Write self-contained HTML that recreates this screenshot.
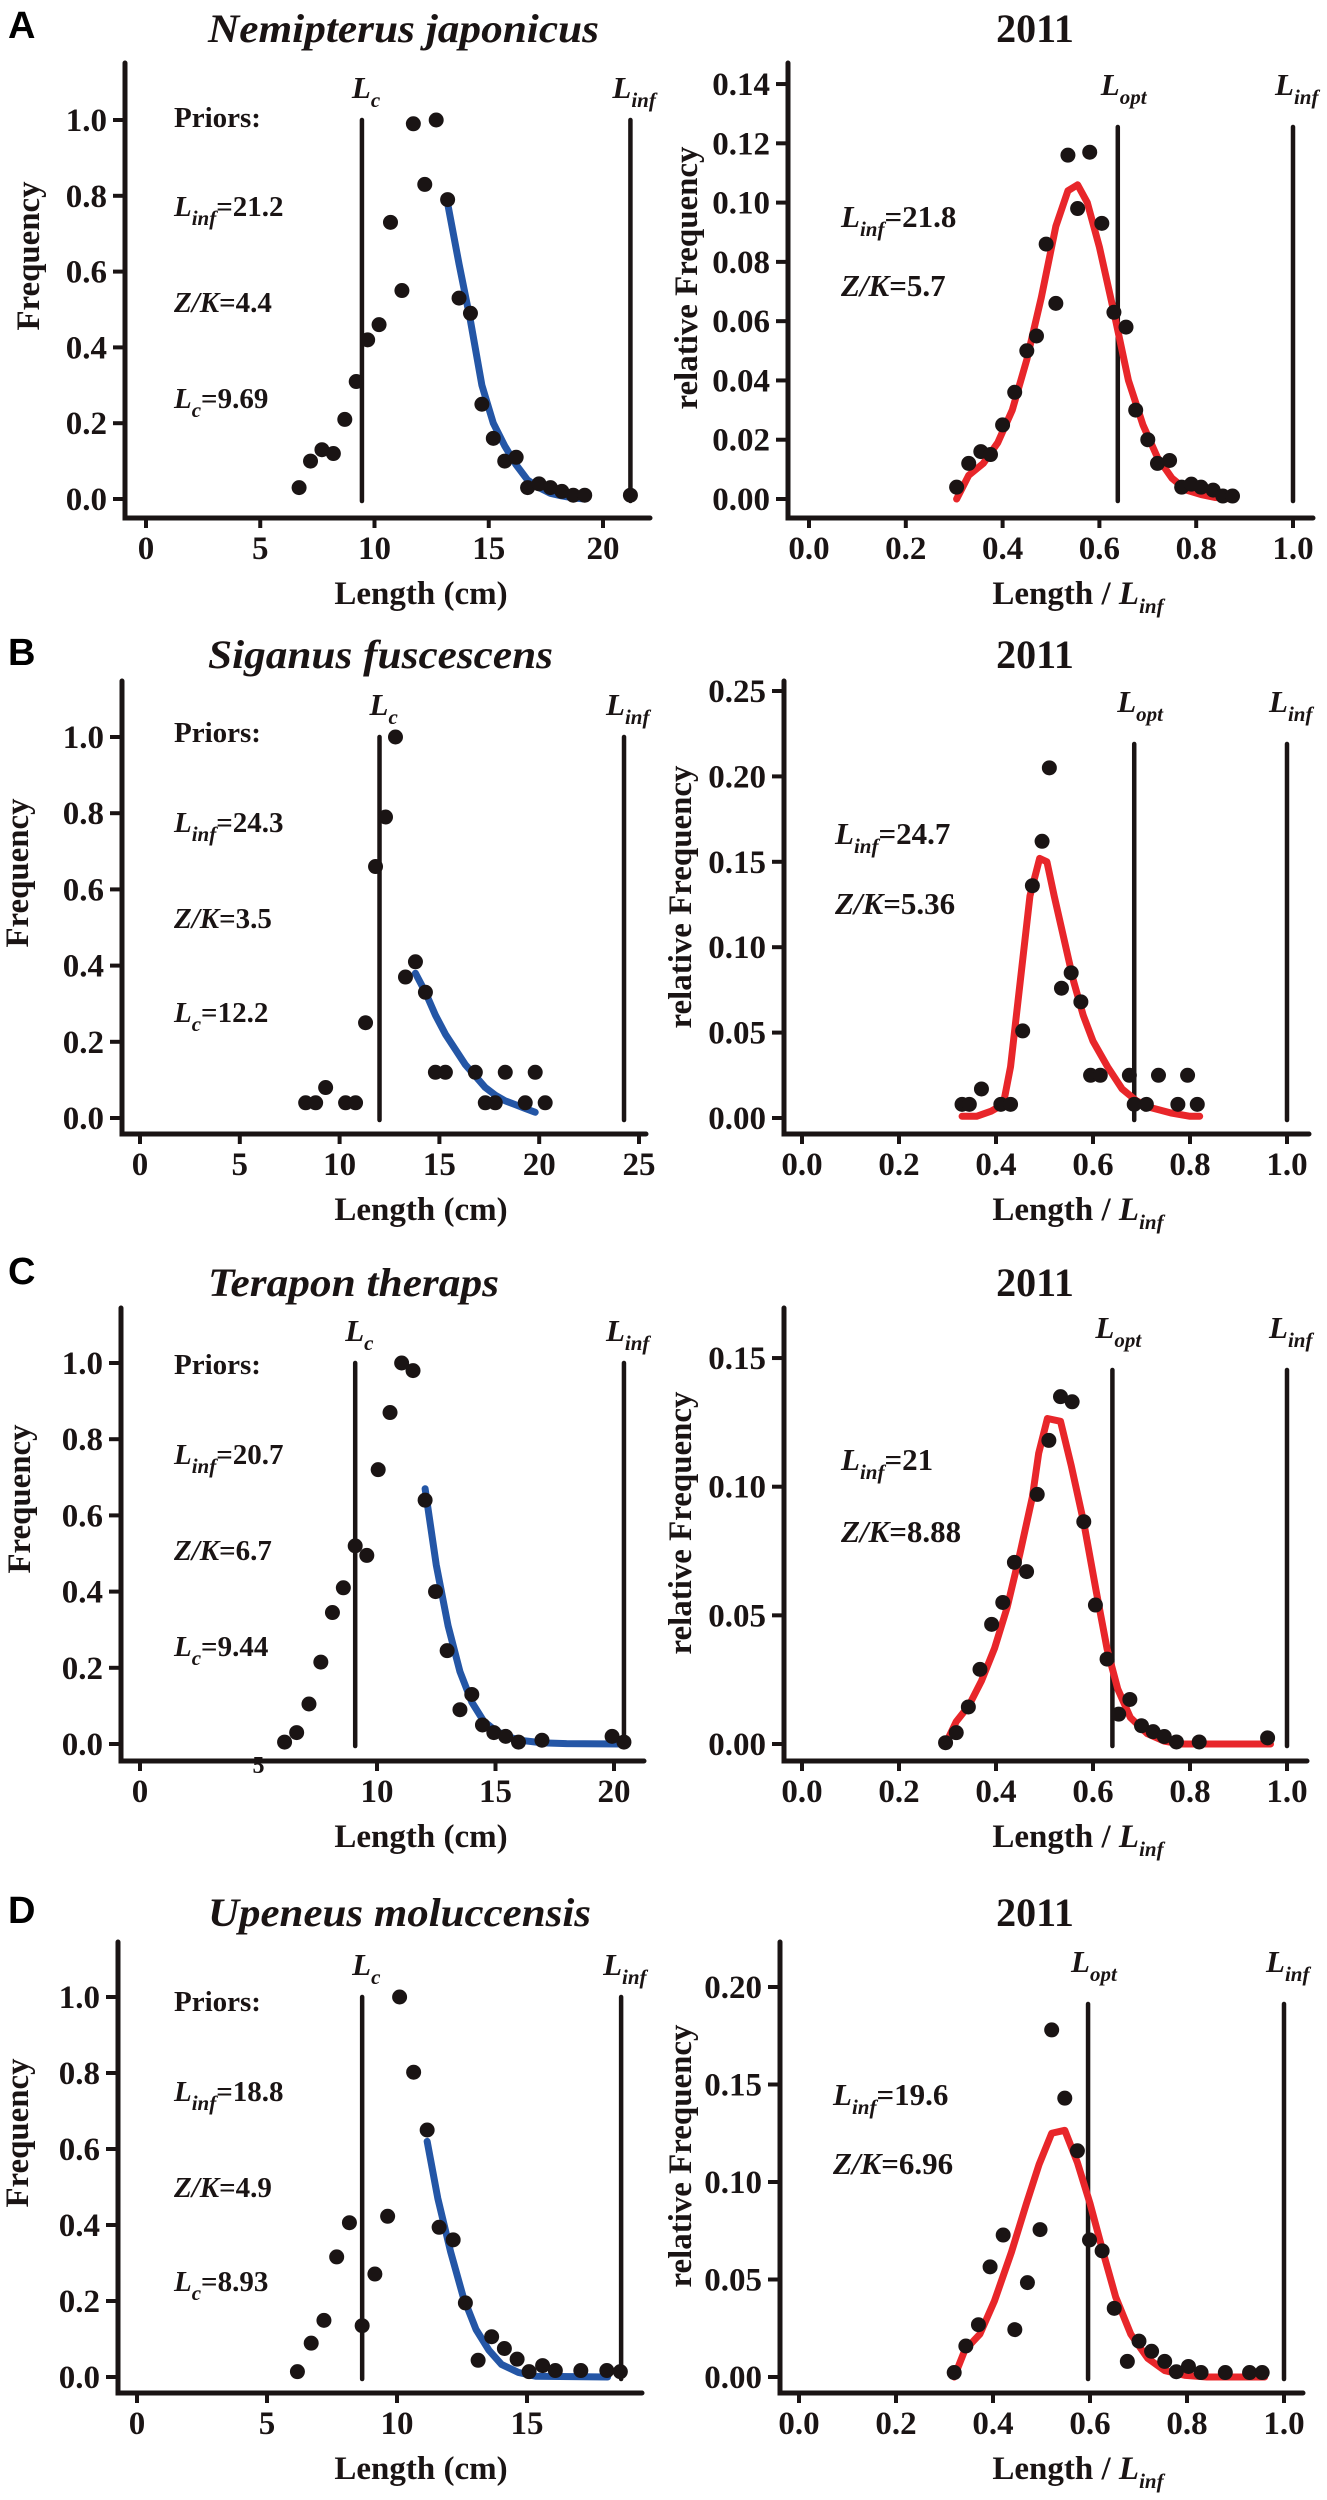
<!DOCTYPE html>
<html><head><meta charset="utf-8"><title>Length-frequency fits</title>
<style>
html,body{margin:0;padding:0;background:#fff;}
svg{display:block;font-family:"Liberation Serif",serif;}
.b{font-weight:bold;}
</style></head>
<body>
<svg id="fig" width="1327" height="2500" viewBox="0 0 1327 2500" xmlns="http://www.w3.org/2000/svg"></svg>
<script>
// ---------- DATA ----------
const aLeftX=[6.7,7.2,7.7,8.2,8.7,9.2,9.7,10.2,10.7,11.2,11.7,12.2,12.7,13.2,13.7,14.2,14.7,15.2,15.7,16.2,16.7,17.2,17.7,18.2,18.7,19.2,21.2];
const aLeftY=[0.03,0.10,0.13,0.12,0.21,0.31,0.42,0.46,0.73,0.55,0.99,0.83,1.0,0.79,0.53,0.49,0.25,0.16,0.10,0.11,0.03,0.04,0.03,0.02,0.01,0.01,0.01];
const aFitX=[13.2,13.7,14.2,14.7,15.2,15.7,16.2,16.7,17.2,17.7,18.2,18.7,19.2];
const aFitY=[0.78,0.62,0.47,0.30,0.20,0.14,0.09,0.05,0.03,0.015,0.008,0.003,0.0];
const aRightX=[0.305,0.33,0.355,0.375,0.40,0.425,0.45,0.47,0.49,0.51,0.535,0.555,0.58,0.605,0.63,0.655,0.675,0.70,0.72,0.745,0.77,0.79,0.81,0.835,0.855,0.875];
const aRightY=[0.004,0.012,0.016,0.015,0.025,0.036,0.05,0.055,0.086,0.066,0.116,0.098,0.117,0.093,0.063,0.058,0.030,0.020,0.012,0.013,0.004,0.005,0.004,0.003,0.001,0.001];
const aRFitX=[0.305,0.33,0.36,0.39,0.42,0.45,0.48,0.51,0.535,0.555,0.575,0.60,0.63,0.66,0.69,0.72,0.75,0.78,0.81,0.84,0.875];
const aRFitY=[0,0.008,0.012,0.019,0.03,0.047,0.068,0.092,0.104,0.106,0.1,0.085,0.063,0.04,0.025,0.014,0.007,0.003,0.0015,0.0005,0];

const bLeftX=[8.3,8.8,9.3,10.3,10.8,11.3,11.8,12.3,12.8,13.3,13.8,14.3,14.8,15.3,16.8,17.3,17.8,18.3,19.3,19.8,20.3];
const bLeftY=[0.04,0.04,0.08,0.04,0.04,0.25,0.66,0.79,1.0,0.37,0.41,0.33,0.12,0.12,0.12,0.04,0.04,0.12,0.04,0.12,0.04];
const bFitX=[13.8,14.3,14.8,15.3,15.8,16.3,16.8,17.3,17.8,18.3,18.8,19.3,19.8];
const bFitY=[0.38,0.33,0.27,0.22,0.18,0.14,0.11,0.08,0.06,0.045,0.035,0.025,0.015];
const bRightX=[0.33,0.345,0.37,0.41,0.43,0.455,0.475,0.495,0.51,0.535,0.555,0.575,0.595,0.615,0.675,0.685,0.71,0.735,0.775,0.795,0.815];
const bRightY=[0.008,0.008,0.017,0.008,0.008,0.051,0.136,0.162,0.205,0.076,0.085,0.068,0.025,0.025,0.025,0.008,0.008,0.025,0.008,0.025,0.008];
const bRFitX=[0.33,0.36,0.39,0.415,0.43,0.45,0.47,0.49,0.505,0.52,0.54,0.56,0.58,0.60,0.63,0.66,0.69,0.72,0.76,0.8,0.82];
const bRFitY=[0.001,0.001,0.004,0.008,0.03,0.08,0.13,0.152,0.15,0.13,0.105,0.08,0.06,0.045,0.03,0.017,0.01,0.006,0.003,0.001,0.001];

const cLeftX=[6.10,6.61,7.13,7.63,8.12,8.58,9.08,9.57,10.05,10.55,11.04,11.52,12.03,12.47,12.96,13.50,14.0,14.45,14.93,15.43,15.97,16.96,19.92,20.42];
const cLeftY=[0.005,0.03,0.105,0.215,0.345,0.41,0.52,0.495,0.72,0.87,1.0,0.98,0.64,0.40,0.245,0.09,0.13,0.05,0.03,0.02,0.005,0.01,0.02,0.005];
const cFitX=[12.03,12.5,13.0,13.5,14.0,14.5,15.0,15.5,16.0,17.0,18.0,20.3];
const cFitY=[0.67,0.47,0.31,0.19,0.11,0.06,0.035,0.02,0.01,0.003,0.001,0];
const cRightX=[0.296,0.318,0.343,0.367,0.391,0.414,0.438,0.463,0.485,0.509,0.533,0.557,0.581,0.605,0.629,0.653,0.676,0.70,0.724,0.747,0.772,0.819,0.96];
const cRightY=[0.0005,0.0044,0.0144,0.029,0.0465,0.055,0.0706,0.067,0.097,0.118,0.135,0.133,0.0864,0.054,0.033,0.0116,0.0173,0.0071,0.0048,0.0029,0.0008,0.0008,0.0024];
const cRFitX=[0.296,0.318,0.344,0.370,0.397,0.423,0.449,0.475,0.488,0.506,0.533,0.555,0.581,0.607,0.629,0.651,0.677,0.712,0.747,0.782,0.966];
const cRFitY=[0,0.0087,0.0149,0.0245,0.0372,0.0531,0.0737,0.096,0.113,0.1265,0.1254,0.1083,0.086,0.059,0.037,0.0214,0.0103,0.004,0.0011,0,0];

const dLeftX=[6.17,6.70,7.19,7.68,8.17,8.66,9.15,9.64,10.10,10.64,11.16,11.62,12.16,12.63,13.12,13.64,14.13,14.62,15.08,15.60,16.09,17.07,18.07,18.59];
const dLeftY=[0.014,0.089,0.149,0.316,0.406,0.135,0.271,0.423,1.0,0.802,0.65,0.394,0.361,0.195,0.044,0.106,0.075,0.047,0.014,0.03,0.017,0.017,0.017,0.014];
const dFitX=[11.16,11.57,12.06,12.55,13.04,13.53,14.02,14.67,15.33,18.1];
const dFitY=[0.62,0.47,0.33,0.21,0.125,0.071,0.033,0.012,0.002,0];
const dRightX=[0.320,0.344,0.370,0.394,0.421,0.445,0.471,0.497,0.521,0.548,0.574,0.599,0.625,0.650,0.677,0.701,0.727,0.754,0.778,0.803,0.829,0.879,0.929,0.955];
const dRightY=[0.0023,0.0159,0.0268,0.0565,0.0728,0.0243,0.0484,0.0756,0.178,0.143,0.116,0.0703,0.0647,0.0352,0.008,0.0184,0.0132,0.008,0.0027,0.0054,0.0023,0.0023,0.0023,0.0023];
const dRFitX=[0.320,0.342,0.373,0.403,0.438,0.469,0.495,0.521,0.548,0.574,0.600,0.627,0.653,0.684,0.719,0.754,0.797,0.841,0.960];
const dRFitY=[0,0.0138,0.022,0.039,0.064,0.089,0.109,0.125,0.1265,0.110,0.089,0.064,0.041,0.022,0.0096,0.0033,0.0008,0,0];

const leftTicksX=[[0,5,10,15,20],[0,5,10,15,20,25],[0,10,15,20],[0,5,10,15]];
const leftTicksY=[0,0.2,0.4,0.6,0.8,1.0];
const rightTicksX=[0,0.2,0.4,0.6,0.8,1.0];
const rightTicksY=[[0,0.02,0.04,0.06,0.08,0.10,0.12,0.14],[0,0.05,0.10,0.15,0.20,0.25],[0,0.05,0.10,0.15],[0,0.05,0.10,0.15,0.20]];
const species=["Nemipterus japonicus","Siganus fuscescens","Terapon theraps","Upeneus moluccensis"];
const letters=["A","B","C","D"];
const priorLinf=["21.2","24.3","20.7","18.8"];
const priorZK=["4.4","3.5","6.7","4.9"];
const priorLc=["9.69","12.2","9.44","8.93"];
const postLinf=["21.8","24.7","21","19.6"];
const postZK=["5.7","5.36","8.88","6.96"];
const lcPos=[9.45,12.0,9.08,8.66];
const linfPos=[21.2,24.25,20.42,18.62];
const loptPos=[0.638,0.685,0.640,0.596];

// ---------- LAYOUT (geometry only) ----------
const L=[
 {oy:0,xZ:146,xs:22.85,yZ:499,ys:379,axX:125,axY:518,top:63,right:650,txt:[127,216,312,408],ylx:28,tw:391,tb:42,lb:38},
 {oy:626,xZ:140,xs:19.96,yZ:492,ys:381,axX:122,axY:508,top:55,right:646,txt:[116,206,302,396],ylx:17,tw:345,tb:42,lb:39},
 {oy:1256,xZ:140,xs:23.7,yZ:488,ys:381,axX:121,axY:505,top:52,right:644,txt:[118,208,304,400],ylx:19,tw:291,tb:40,lb:28},
 {oy:1860,xZ:137,xs:26.0,yZ:517,ys:380,axX:118,axY:533,top:82,right:642,txt:[151,241,337,431],ylx:17,tw:383,tb:66,lb:63}
];
const R=[
 {xZ:809,xs:484,yZ:499,ys:2964,axX:788,axY:518,top:63,right:1313,lineTop:127,tx:841,txt:[227,296],ylx:686},
 {xZ:802,xs:485,yZ:492,ys:1708,axX:784,axY:508,top:55,right:1309,lineTop:118,tx:835,txt:[218,288],ylx:680},
 {xZ:802,xs:485,yZ:488,ys:2573,axX:784,axY:505,top:52,right:1307,lineTop:114,tx:841,txt:[214,286],ylx:680},
 {xZ:799,xs:485,yZ:517,ys:1950,axX:780,axY:533,top:82,right:1303,lineTop:144,tx:833,txt:[245,314],ylx:680}
];
const leftData=[[aLeftX,aLeftY,aFitX,aFitY],[bLeftX,bLeftY,bFitX,bFitY],[cLeftX,cLeftY,cFitX,cFitY],[dLeftX,dLeftY,dFitX,dFitY]];
const rightData=[[aRightX,aRightY,aRFitX,aRFitY],[bRightX,bRightY,bRFitX,bRFitY],[cRightX,cRightY,cRFitX,cRFitY],[dRightX,dRightY,dRFitX,dRFitY]];

const NS="http://www.w3.org/2000/svg";
const svg=document.getElementById('fig');
function mk(tag,attrs,parent){const e=document.createElementNS(NS,tag);for(const k in attrs)e.setAttribute(k,attrs[k]);(parent||svg).appendChild(e);return e;}
function txt(x,y,html,size,parent,extra){const e=mk('text',Object.assign({x:x,y:y,'font-size':size,'font-weight':'bold',fill:'#1a1414'},extra||{}),parent);e.innerHTML=html;return e;}
const SUB=(s)=>'<tspan dy="9" font-size="21" font-style="italic">'+s+'</tspan>';

function drawAxes(g,G,oy,xt,yt,xfmt,yfmt){
  const X=v=>G.xZ+v*G.xs, Y=v=>oy+G.yZ-v*G.ys;
  const ax=mk('path',{d:'M'+G.axX+' '+(oy+G.top)+' V'+(oy+G.axY)+' H'+G.right,fill:'none',stroke:'#1a1414','stroke-width':5,'stroke-linecap':'round'},g);
  
  
  xt.forEach(v=>{
    const t=mk('line',{x1:X(v),x2:X(v),y1:oy+G.axY,y2:oy+G.axY+10,stroke:'#1a1414','stroke-width':4},g);
    
    
    const l=txt(X(v),oy+G.axY+41,xfmt(v),33,g,{'text-anchor':'middle'});
    
    
  });
  yt.forEach(v=>{
    const t=mk('line',{x1:G.axX-12,x2:G.axX,y1:Y(v),y2:Y(v),stroke:'#1a1414','stroke-width':4},g);
    
    
    const l=txt(G.axX-18,Y(v)+11,yfmt(v),33,g,{'text-anchor':'end'});
    
    
  });
  return [X,Y];
}
function drawSeries(g,X,Y,xs,ys,fx,fy,color){
  const pts=fx.map((v,i)=>X(v)+','+Y(fy[i])).join(' ');
  const c=mk('polyline',{points:pts,fill:'none',stroke:color,'stroke-width':7,'stroke-linejoin':'round','stroke-linecap':'round'},g);
  
  
  xs.forEach((v,i)=>{
    const d=mk('circle',{cx:X(v),cy:Y(ys[i]),r:7.5,fill:'#1a1414'},g);
    
    
  });
}
function vline(g,x,y1,y2,name){
  const l=mk('line',{x1:x,x2:x,y1:y1,y2:y2,stroke:'#1a1414','stroke-width':4.5,'stroke-linecap':'round'},g);
  
  
}

for(let p=0;p<4;p++){
  const G=L[p],oy=G.oy;
  const g=mk('g',{});
  
  
  const let_=mk('text',{x:8,y:oy+G.lb,'font-size':38,'font-weight':'bold','font-family':'Liberation Sans, sans-serif',fill:'#000'},g);
  let_.textContent=letters[p];
  
  
  const tt=txt(208,oy+G.tb,species[p],40,g,{'font-style':'italic',textLength:G.tw,lengthAdjust:'spacingAndGlyphs'});
  
  
  const [X,Y]=drawAxes(g,G,oy,leftTicksX[p],leftTicksY,v=>String(v),v=>v.toFixed(1));
  if(p===2){const f=txt(X(5),oy+G.axY+12,'5',24,g,{'text-anchor':'middle'});
    
    }
  const yl=txt(0,0,'Frequency',33,g,{'text-anchor':'middle',transform:'translate('+(G.ylx+11)+','+(Y(1)+136)+') rotate(-90)',textLength:149,lengthAdjust:'spacingAndGlyphs'});
  
  
  const xl=txt(421,oy+G.axY+86,'Length (cm)',33,g,{'text-anchor':'middle'});
  
  
  vline(g,X(lcPos[p]),Y(1.0),Y(0)+2,'lc-line');
  vline(g,X(linfPos[p]),Y(1.0),Y(0)+2,'linf-line');
  const lc=txt(X(lcPos[p])-10,Y(1.0)-22,'<tspan font-style="italic">L</tspan>'+SUB('c'),31,g);
  
  
  const li=txt(X(linfPos[p])-18,Y(1.0)-22,'<tspan font-style="italic">L</tspan>'+SUB('inf'),31,g);
  
  
  const a1=txt(174,oy+G.txt[0],'Priors:',29,g);
  
  
  const a2=txt(174,oy+G.txt[1],'<tspan font-style="italic">L</tspan>'+SUB('inf')+'<tspan dy="-9">=</tspan>'+priorLinf[p],29,g);
  
  
  const a3=txt(174,oy+G.txt[2],'<tspan font-style="italic">Z/K</tspan>='+priorZK[p],29,g);
  
  
  const a4=txt(174,oy+G.txt[3],'<tspan font-style="italic">L</tspan>'+SUB('c')+'<tspan dy="-9">=</tspan>'+priorLc[p],29,g);
  
  
  const D=leftData[p];
  drawSeries(g,X,Y,D[0],D[1],D[2],D[3],'#2456a6');

  // right panel
  const H=R[p];
  const g2=mk('g',{});
  
  
  const t2=txt(1035,oy+G.tb,'2011',40,g2,{'text-anchor':'middle'});
  
  
  const [X2,Y2]=drawAxes(g2,H,oy,rightTicksX,rightTicksY[p],v=>v.toFixed(1),v=>v.toFixed(2));
  const yl2=txt(0,0,'relative Frequency',33,g2,{'text-anchor':'middle',transform:'translate('+(H.ylx+11)+','+(oy+H.yZ-221)+') rotate(-90)',textLength:263,lengthAdjust:'spacingAndGlyphs'});
  
  
  const xl2=txt(1078,oy+H.axY+86,'Length / <tspan font-style="italic">L</tspan>'+SUB('inf'),33,g2,{'text-anchor':'middle'});
  
  
  vline(g2,X2(loptPos[p]),oy+H.lineTop,Y2(0)+2,'lopt-line');
  vline(g2,X2(1.0),oy+H.lineTop,Y2(0)+2,'linf-line');
  const lo=txt(X2(loptPos[p])-17,oy+H.lineTop-32,'<tspan font-style="italic">L</tspan>'+SUB('opt'),31,g2);
  
  
  const li2=txt(X2(1.0)-18,oy+H.lineTop-32,'<tspan font-style="italic">L</tspan>'+SUB('inf'),31,g2);
  
  
  const b1=txt(H.tx,oy+H.txt[0],'<tspan font-style="italic">L</tspan>'+SUB('inf')+'<tspan dy="-9">=</tspan>'+postLinf[p],31,g2);
  
  
  const b2=txt(H.tx,oy+H.txt[1],'<tspan font-style="italic">Z/K</tspan>='+postZK[p],31,g2);
  
  
  const E=rightData[p];
  drawSeries(g2,X2,Y2,E[0],E[1],E[2],E[3],'#e8262a');
}
</script>
</body></html>
